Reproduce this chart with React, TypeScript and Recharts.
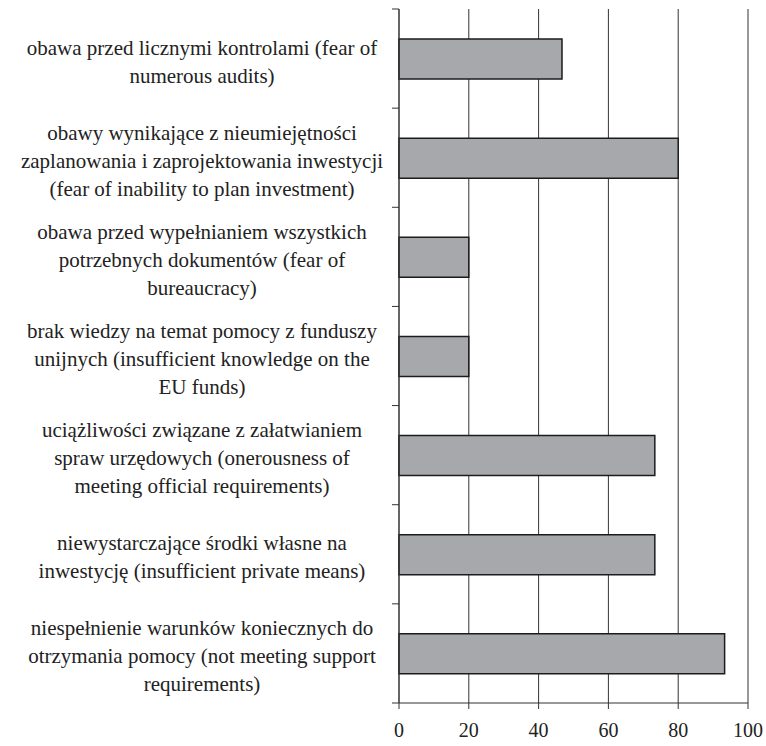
import { Bar, BarChart, CartesianGrid, XAxis, YAxis } from "recharts";

const reasons = [
  ["obawa przed licznymi kontrolami (fear of", "numerous audits)"],
  [
    "obawy wynikające z nieumiejętności",
    "zaplanowania i zaprojektowania inwestycji",
    "(fear of inability to plan investment)",
  ],
  [
    "obawa przed wypełnianiem wszystkich",
    "potrzebnych dokumentów (fear of",
    "bureaucracy)",
  ],
  [
    "brak wiedzy na temat pomocy z funduszy",
    "unijnych (insufficient knowledge on the",
    "EU funds)",
  ],
  [
    "uciążliwości związane z załatwianiem",
    "spraw urzędowych (onerousness of",
    "meeting official requirements)",
  ],
  ["niewystarczające środki własne na", "inwestycję (insufficient private means)"],
  [
    "niespełnienie warunków koniecznych do",
    "otrzymania pomocy (not meeting support",
    "requirements)",
  ],
];

const shares = [46.7, 80, 20, 20, 73.3, 73.3, 93.3];

const xTicks = [0, 20, 40, 60, 80, 100];

const W = 766;
const H = 746;
const xAxisHeight = 43;
const margin = { top: 9, right: 18, bottom: 0, left: 0 };
const axisWidth = 399;
const band = (H - margin.top - xAxisHeight) / reasons.length;
const font = "'Liberation Serif', 'Times New Roman', serif";

const data = reasons.map((lines, i) => ({ key: String(i), lines, value: shares[i] }));

function ReasonTick(props: any) {
  const { y, payload, index } = props;
  const lines: string[] = reasons[Number(payload.value)];
  const lineH = 28;
  const last = index === reasons.length - 1;
  const ax = axisWidth;
  return (
    <g>
      <line x1={ax - 7} x2={ax} y1={y - band / 2} y2={y - band / 2} stroke="#333" />
      {last && <line x1={ax - 7} x2={ax} y1={y + band / 2} y2={y + band / 2} stroke="#333" />}
      <text
        x={202}
        y={y + 3}
        textAnchor="middle"
        style={{ fontFamily: font, fontSize: 21, fill: "#222" }}
      >
        {lines.map((l, i) => (
          <tspan key={i} x={202} y={y + 3 + (i - (lines.length - 1) / 2) * lineH} dy="0.33em">
            {l}
          </tspan>
        ))}
      </text>
    </g>
  );
}

export default function App() {
  return (
    <div style={{ position: "absolute", left: 0, top: 0, background: "#fff" }}>
      <BarChart width={W} height={H} data={data} layout="vertical" margin={margin}>
        <CartesianGrid horizontal={false} stroke="#333" />
        <XAxis
          type="number"
          domain={[0, 100]}
          ticks={xTicks}
          interval={0}
          height={xAxisHeight}
          stroke="#333"
          tickSize={6}
          tickMargin={14}
          tick={{ fontFamily: font, fontSize: 20, fill: "#222" }}
        />
        <YAxis
          type="category"
          dataKey="key"
          width={axisWidth}
          stroke="#333"
          tickLine={false}
          tick={<ReasonTick />}
          interval={0}
        />
        <Bar
          dataKey="value"
          fill="#a6a8ab"
          stroke="#1c1c1c"
          strokeWidth={1.5}
          barSize={40}
          isAnimationActive={false}
        />
      </BarChart>
    </div>
  );
}
